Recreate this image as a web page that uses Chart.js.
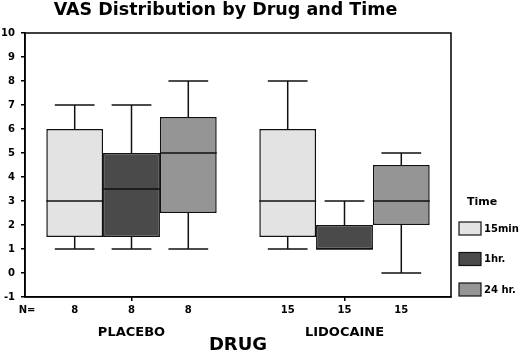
<!DOCTYPE html>
<html>
<head>
<meta charset="utf-8">
<script src="https://cdn.jsdelivr.net/npm/chart.js@4"></script>
<style>
  html, body { margin: 0; padding: 0; background: #fff; }
  #wrap { width: 520px; height: 356px; }
</style>
</head>
<body>
<div id="wrap"><canvas id="chart1" width="520" height="356"></canvas></div>
<script>
const chartTitle = 'VAS Distribution by Drug and Time';
const axisTitle = 'DRUG';
const legendTitle = 'Time';
const drugs = ['PLACEBO', 'LIDOCAINE'];
const timeLabels = ['15min', '1hr.', '24 hr.'];
const timeColors = ['#e3e3e3', '#4a4a4a', '#959595'];
const nCounts = [8, 15];

// box plot stats, one value per drug
const min15 = [1, 1];
const q1_15 = [1.5, 1.5];
const med15 = [3, 3];
const q3_15 = [6, 6];
const max15 = [7, 8];

const min1h = [1, 1];
const q1_1h = [1.5, 1];
const med1h = [3.5, 1];
const q3_1h = [5, 2];
const max1h = [7, 3];

const min24 = [1, 0];
const q1_24 = [2.5, 2];
const med24 = [5, 3];
const q3_24 = [6.5, 4.5];
const max24 = [8, 5];

const yMin = -1;
const yMax = 10;

const FONT = '"DejaVu Sans", sans-serif';

function makeBox(label, color, mins, q1s, meds, q3s, maxs) {
  return {
    label: label,
    data: drugs.map((d, i) => [q1s[i], q3s[i]]),
    mins: mins,
    meds: meds,
    maxs: maxs,
    backgroundColor: color,
    borderColor: '#111',
    borderWidth: 1.5,
    borderSkipped: false,
    categoryPercentage: 0.8,
    barPercentage: 1.0
  };
}

const boxPlot = {
  id: 'boxPlot',
  beforeDatasetsDraw(chart) {
    const ctx = chart.ctx;
    const y = chart.scales.y;
    ctx.save();
    ctx.strokeStyle = '#111';
    ctx.lineWidth = 1.5;
    chart.data.datasets.forEach((ds, di) => {
      chart.getDatasetMeta(di).data.forEach((bar, i) => {
        const {x, width} = bar.getProps(['x', 'width'], true);
        const cap = width * 0.35;
        const lo = ds.data[i][0], hi = ds.data[i][1];
        ctx.beginPath();
        if (ds.maxs[i] > hi) {
          ctx.moveTo(x, y.getPixelForValue(hi));
          ctx.lineTo(x, y.getPixelForValue(ds.maxs[i]));
          ctx.moveTo(x - cap, y.getPixelForValue(ds.maxs[i]));
          ctx.lineTo(x + cap, y.getPixelForValue(ds.maxs[i]));
        }
        if (ds.mins[i] < lo) {
          ctx.moveTo(x, y.getPixelForValue(lo));
          ctx.lineTo(x, y.getPixelForValue(ds.mins[i]));
          ctx.moveTo(x - cap, y.getPixelForValue(ds.mins[i]));
          ctx.lineTo(x + cap, y.getPixelForValue(ds.mins[i]));
        }
        ctx.stroke();
      });
    });
    ctx.restore();
  },
  afterDatasetsDraw(chart) {
    const ctx = chart.ctx;
    const y = chart.scales.y;
    const area = chart.chartArea;
    ctx.save();
    ctx.strokeStyle = '#111';
    ctx.lineWidth = 1.5;
    // medians
    chart.data.datasets.forEach((ds, di) => {
      chart.getDatasetMeta(di).data.forEach((bar, i) => {
        const {x, width} = bar.getProps(['x', 'width'], true);
        const py = y.getPixelForValue(ds.meds[i]);
        ctx.beginPath();
        ctx.moveTo(x - width / 2, py);
        ctx.lineTo(x + width / 2, py);
        ctx.stroke();
      });
    });
    // frame
    ctx.strokeStyle = '#000';
    ctx.strokeRect(area.left, area.top, area.right - area.left, area.bottom - area.top);

    // N row
    ctx.fillStyle = '#000';
    ctx.font = 'bold 10px ' + FONT;
    ctx.textAlign = 'center';
    ctx.textBaseline = 'middle';
    const ny = area.bottom + 13;
    ctx.fillText('N=', area.left + 2, ny);
    chart.data.datasets.forEach((ds, di) => {
      chart.getDatasetMeta(di).data.forEach((bar, i) => {
        ctx.fillText(String(nCounts[i]), bar.x, ny);
      });
    });

    // legend
    const lx = area.right + 8;
    ctx.textAlign = 'left';
    ctx.font = 'bold 11px ' + FONT;
    ctx.fillText(legendTitle, lx + 8, area.bottom - 95);
    ctx.font = 'bold 10px ' + FONT;
    ctx.lineWidth = 1.2;
    chart.data.datasets.forEach((ds, di) => {
      const top = area.bottom - 75 + di * 30.5;
      ctx.fillStyle = ds.backgroundColor;
      ctx.fillRect(lx, top, 22, 13);
      ctx.strokeStyle = '#111';
      ctx.strokeRect(lx, top, 22, 13);
      ctx.fillStyle = '#000';
      ctx.fillText(ds.label, lx + 25, top + 7);
    });
    ctx.restore();
  }
};

new Chart(document.getElementById('chart1'), {
  type: 'bar',
  data: {
    labels: drugs,
    datasets: [
      makeBox(timeLabels[0], timeColors[0], min15, q1_15, med15, q3_15, max15),
      makeBox(timeLabels[1], timeColors[1], min1h, q1_1h, med1h, q3_1h, max1h),
      makeBox(timeLabels[2], timeColors[2], min24, q1_24, med24, q3_24, max24)
    ]
  },
  options: {
    responsive: false,
    animation: false,
    layout: { padding: { left: 0, right: 69, top: 0, bottom: 0 } },
    plugins: {
      legend: { display: false },
      tooltip: { enabled: false },
      title: {
        display: true,
        text: chartTitle,
        color: '#000',
        font: { family: FONT, size: 17.5, weight: 'bold' },
        padding: { top: 0, bottom: 12 }
      }
    },
    scales: {
      x: {
        grid: { drawOnChartArea: false, offset: false, tickLength: 4, color: '#000', lineWidth: 1.5 },
        border: { color: '#000', width: 1.5 },
        ticks: { color: '#000', font: { family: FONT, size: 13, weight: 'bold' }, padding: 24 },
        title: {
          display: true,
          text: axisTitle,
          color: '#000',
          font: { family: FONT, size: 18, weight: 'bold' },
          padding: { top: 0, bottom: 0 }
        },
        afterFit(scale) { scale.height = 59; }
      },
      y: {
        min: yMin,
        max: yMax,
        ticks: { stepSize: 1, color: '#000', font: { family: FONT, size: 10, weight: 'bold' }, padding: 6 },
        grid: { drawOnChartArea: false, tickLength: 4, color: '#000', lineWidth: 1.5 },
        border: { color: '#000', width: 1.5 },
        afterFit(scale) { scale.width = 25; }
      }
    }
  },
  plugins: [boxPlot]
});
</script>
</body>
</html>
